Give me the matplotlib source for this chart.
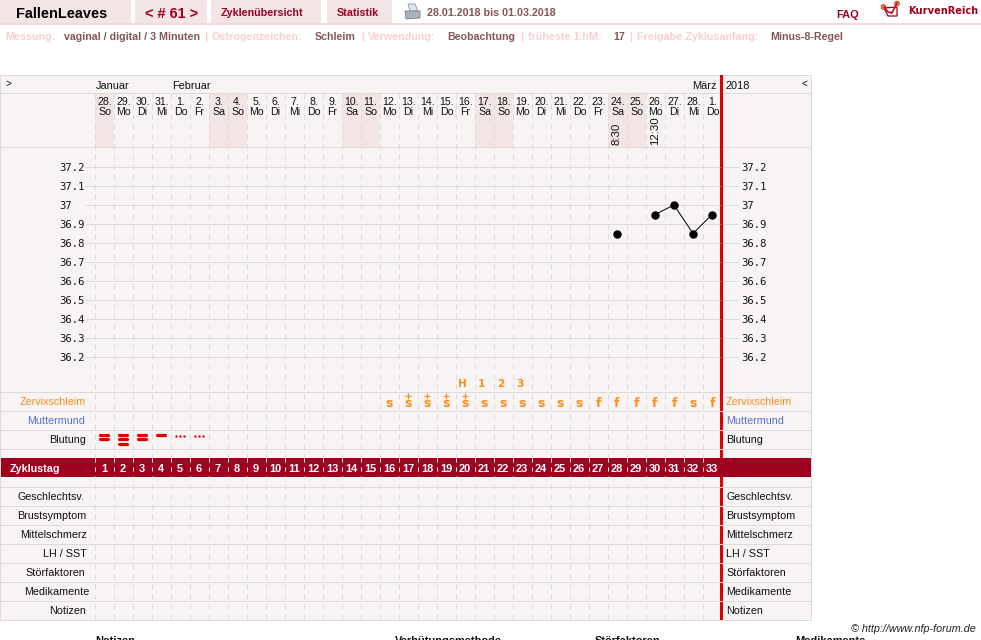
import matplotlib
matplotlib.use("Agg")
import matplotlib.pyplot as plt
from matplotlib.patches import Rectangle, Polygon, Circle

# cycle table data
cycle_days = list(range(1, 34))
date_labels = ["28.", "29.", "30.", "31.", "1.", "2.", "3.", "4.", "5.", "6.", "7.",
               "8.", "9.", "10.", "11.", "12.", "13.", "14.", "15.", "16.", "17.",
               "18.", "19.", "20.", "21.", "22.", "23.", "24.", "25.", "26.", "27.",
               "28.", "1."]
weekdays = ["So", "Mo", "Di", "Mi", "Do", "Fr", "Sa"]
weekday_labels = [weekdays[i % 7] for i in range(33)]
weekend_days = [1, 7, 8, 14, 15, 21, 22, 28, 29]
time_labels = {28: "8:30", 30: "12:30"}

temp_ticks = [37.2, 37.1, 37.0, 36.9, 36.8, 36.7, 36.6, 36.5, 36.4, 36.3, 36.2]
temp_single_days = [28]
temp_single_values = [36.85]
temp_line_days = [30, 31, 32, 33]
temp_line_values = [36.95, 37.0, 36.85, 36.95]

peak_labels = {20: "H", 21: "1", 22: "2", 23: "3"}
mucus_days = list(range(16, 34))
mucus_symbols = ["s", "s+", "s+", "s+", "s+", "s", "s", "s", "s", "s", "s",
                 "f", "f", "f", "f", "f", "s", "f"]
bleeding_days = [1, 2, 3, 4]
bleeding_bars = [2, 3, 2, 1]
spotting_days = [5, 6]

upper_rows = ["Zervixschleim", "Muttermund", "Blutung"]
upper_colors = ["#ff8c1a", "#5a6fd2", "#111111"]
lower_rows = ["Geschlechtsv.", "Brustsymptom", "Mittelschmerz", "LH / SST",
              "Störfaktoren", "Medikamente", "Notizen"]
lower_right = [84, 86, 87, 87, 85, 89, 86]

info_parts = [(5, "Messung:", 0), (64, "vaginal / digital / 3 Minuten", 1),
              (204, "|", 0), (212, "Östrogenzeichen:", 0), (315, "Schleim", 1),
              (361, "|", 0), (368, "Verwendung:", 0), (447, "Beobachtung", 1),
              (520, "|", 0), (528, "früheste 1.hM:", 0), (613, "17", 1),
              (629, "|", 0), (637, "Freigabe Zyklusanfang:", 0), (770, "Minus-8-Regel", 1)]
footer_heads = [(95, "Notizen"), (395, "Verhütungsmethode"), (595, "Störfaktoren"),
                (795, "Medikamente")]

W, H = 981, 640
GRID = "#dedada"
TABLE_BG = "#f9f4f4"
TAB_BG = "#f3e4e6"
DARK_RED = "#a00020"
RED = "#e00000"
ORANGE = "#ff8c1a"
MUTED = "#84565c"
PINK = "#f9cfd3"
LEFT = 94.5
COL = 19.0

plt.rcParams["lines.scale_dashes"] = False
sans = ["Liberation Sans", "DejaVu Sans"]
narrow = ["Liberation Sans Narrow", "Liberation Sans"]
plt.rcParams["font.family"] = sans


def px(n):
    return n * 72.0 / 100.0


def day_x(day):
    return LEFT + COL * (day - 0.5)


fig = plt.figure(figsize=(W / 100, H / 100), dpi=100)
ax = fig.add_axes([0, 0, 1, 1])
ax.set_xlim(0, W)
ax.set_ylim(H, 0)
ax.axis("off")


def txt(x, y, s, size=11, **kw):
    # y is the middle of the capital letters, so accents do not shift a line
    kw.setdefault("va", "baseline")
    kw.setdefault("color", "#111111")
    if kw["va"] == "baseline":
        y = y + size * 0.36
    return ax.text(x, y, s, fontsize=px(size), **kw)


# top navigation
for x0, x1 in [(0, 131), (135, 207), (211, 321), (327, 392)]:
    ax.add_patch(Rectangle((x0, 0), x1 - x0, 23, fc=TAB_BG, ec="none"))
ax.add_patch(Rectangle((0, 23), W, 2, fc="#f3d8dc", ec="none"))
txt(16, 13, "FallenLeaves", 14.5, fontweight="bold", color="#000000")
txt(145, 12.5, "< # 61 >", 14.5, fontweight="bold", color=DARK_RED)
txt(221, 12, "Zyklenübersicht", 10.8, fontweight="bold", color=DARK_RED)
txt(337, 12, "Statistik", 10.8, fontweight="bold", color=DARK_RED)
txt(427, 12, "28.01.2018 bis 01.03.2018", 10.7, fontweight="bold", color=MUTED)
txt(836, 14.5, "FAQ", 11, fontweight="bold", color=DARK_RED)
txt(908, 10.5, "KurvenReich", 9.9, fontweight="bold", color=DARK_RED,
    family="DejaVu Sans")

# printer icon
ax.add_patch(Polygon([(408, 4), (415, 4), (418, 11), (410, 11)], fc="#dfe6ee", ec="#8d99a6", lw=0.6))
ax.add_patch(Polygon([(405, 11), (420, 11), (420, 18), (406, 19)], fc="#aab3bd", ec="#75808c", lw=0.6))

# logo
ax.plot([884, 888, 892, 897], [7, 12, 13, 3], color="#c01030", lw=1.2)
ax.add_patch(Polygon([(884, 8), (888, 16), (897, 16), (897, 7)], fc="none", ec="#a00020", lw=0.9))
ax.add_patch(Circle((883.5, 7), 2.4, fc="#f59a1b", ec="#a00020", lw=0.4))
ax.add_patch(Circle((897, 3.5), 2.4, fc="#f59a1b", ec="#a00020", lw=0.4))
ax.add_patch(Circle((891, 12.5), 1.4, fc="#f59a1b", ec="none"))

for x, s, strong in info_parts:
    txt(x, 36, s, 10.6 if strong else 10.8, fontweight="bold", color=MUTED if strong else PINK)

# table frame and backgrounds
ax.add_patch(Rectangle((0, 75), 811, 545, fc=TABLE_BG, ec=GRID, lw=px(1), zorder=1))
for day in weekend_days:
    ax.add_patch(Rectangle((day_x(day) - COL / 2, 94), COL, 53, fc=TAB_BG, ec="none", zorder=1.5))

# vertical day separators
sep_x = [day_x(d) - COL / 2 for d in cycle_days]
ax.vlines(sep_x, 94, 620, colors=GRID, lw=px(1), linestyles=[(0, (px(5), px(5)))],
          capstyle="butt", zorder=2)

# horizontal row lines
row_lines = [93, 147, 392, 411, 430, 449, 487, 506, 525, 544, 563, 582, 601]
ax.hlines(row_lines[:3], 0, 811, colors=GRID, lw=px(1), zorder=2.2)

# cycle band
ax.add_patch(Rectangle((1, 458), 810, 19, fc=DARK_RED, ec="none", zorder=4.5))
ax.vlines(sep_x, 458, 477, colors="white", lw=px(1), linestyles=[(0, (px(4), px(5)))],
          capstyle="butt", zorder=4.6)
txt(10, 468, "Zyklustag", 10.7, fontweight="bold", color="white", zorder=5)
for day in cycle_days:
    txt(day_x(day), 468, str(day), 11, fontweight="bold", color="white", ha="center", zorder=5)

# end-of-cycle marker, crossed by the lower row lines
ax.add_patch(Rectangle((720, 75), 3, 545, fc=RED, ec="none", zorder=4))
ax.hlines(row_lines[3:], 0, 811, colors=GRID, lw=px(1), zorder=4.2)

# table heading
txt(5, 83, ">", 10, ha="left")
txt(801, 83, "<", 10, ha="left")
txt(96, 85, "Januar", 11)
txt(172, 85, "Februar", 11)
txt(717, 85, "März", 11, ha="right")
txt(726, 85, "2018", 11)

for day, date, wd in zip(cycle_days, date_labels, weekday_labels):
    x = day_x(day) + 0.5
    txt(x, 101.5, date, 10.5, ha="center", family=narrow, zorder=3)
    txt(x, 111.5, wd, 10.5, ha="center", family=narrow, zorder=3)
for day, label in time_labels.items():
    txt(day_x(day), 145, label, 11.5, ha="center", va="bottom", rotation=90, family=narrow, zorder=3)

# temperature panel, scaled at 19 px per 0.1 degrees with 37.2 at y=167
top_t = 37.2 + (167 - 147) / 190.0
bot_t = 37.2 - (392 - 167) / 190.0
tax = fig.add_axes([LEFT / W, 1 - 392 / H, (721.5 - LEFT) / W, 245.0 / H])
tax.set_xlim(0.5, 33.5)
tax.set_ylim(bot_t, top_t)
tax.patch.set_alpha(0)
for spine in tax.spines.values():
    spine.set_visible(False)
tax.set_xticks([])


def temp_label(t):
    return "37" if t == 37.0 else f"{t:.1f}"


tax.set_yticks(temp_ticks)
tax.set_yticklabels([temp_label(t) for t in temp_ticks], family="DejaVu Sans Mono",
                    fontsize=px(10.5), color="#111111", ha="left")
tax.tick_params(axis="y", length=0, pad=px(35.5))
rax = tax.twinx()
rax.set_ylim(bot_t, top_t)
rax.patch.set_alpha(0)
for spine in rax.spines.values():
    spine.set_visible(False)
rax.set_yticks(temp_ticks)
rax.set_yticklabels([temp_label(t) for t in temp_ticks], family="DejaVu Sans Mono",
                    fontsize=px(10.5), color="#111111", ha="left")
rax.tick_params(axis="y", length=0, pad=px(19.5))

# grid stops either side of the red marker
left_end = 0.5 + (85 - LEFT) / COL
marker_left = 0.5 + (720 - LEFT) / COL
marker_right = 0.5 + (723 - LEFT) / COL
right_end = 0.5 + (738 - LEFT) / COL
tax.hlines(temp_ticks, left_end, marker_left, colors=GRID, lw=px(1), clip_on=False, zorder=1)
tax.hlines(temp_ticks, marker_right, right_end, colors=GRID, lw=px(1), clip_on=False, zorder=1)
rax.plot(temp_line_days, temp_line_values, color="black", lw=px(1), marker="o", ms=px(7),
         clip_on=False, zorder=5)
rax.plot(temp_single_days, temp_single_values, ls="none", color="black", marker="o", ms=px(7),
         clip_on=False, zorder=5)

# observations
for day, label in peak_labels.items():
    txt(day_x(day) - 2.5, 383, label, 10.5, fontweight="bold", color=ORANGE, ha="center",
        family="DejaVu Sans", zorder=3)
for day, sym in zip(mucus_days, mucus_symbols):
    txt(day_x(day), 402.5, sym[0], 12.5, color=ORANGE, ha="center", fontweight="bold",
        family="DejaVu Sans", zorder=3)
    if sym.endswith("+"):
        ax.plot(day_x(day), 396, "+", color=ORANGE, ms=px(5.5), mew=px(1.2), zorder=3)

for day, count in zip(bleeding_days, bleeding_bars):
    for k in range(count):
        y = 435 + 4.3 * k
        ax.plot([day_x(day) - 4.2, day_x(day) + 4.2], [y, y], color=RED, lw=px(3.2),
                solid_capstyle="round", zorder=3)
for day in spotting_days:
    for dx in (-4, 0, 4):
        ax.plot(day_x(day) + dx, 435.5, "o", color=RED, ms=px(2.4), mew=0, zorder=3)

# row labels on both sides
for i, (label, color) in enumerate(zip(upper_rows, upper_colors)):
    y = 401 + 19 * i
    txt(85.5, y, label, 10.7, ha="right", color=color)
    txt(726, y, label, 10.7, color=color, zorder=5)
for i, (label, right) in enumerate(zip(lower_rows, lower_right)):
    y = 496 + 19 * i
    txt(right, y, label, 10.7, ha="right")
    txt(726.5, y, label, 10.7, zorder=5)

txt(976, 628, "© http://www.nfp-forum.de", 10.8, ha="right", style="italic", color="#222222")
for x, s in footer_heads:
    ax.text(x, 636, s, fontsize=px(11), fontweight="bold", color="#111111", va="top", clip_on=True)

fig.savefig("out.png", dpi=100, facecolor="white")
